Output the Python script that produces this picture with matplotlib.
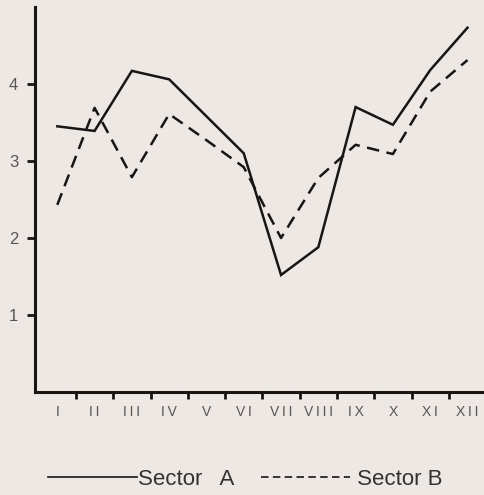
import matplotlib.pyplot as plt
from matplotlib.lines import Line2D
import numpy as np

plt.rcParams['font.family'] = ['Liberation Sans', 'DejaVu Sans']

meses = ['I', 'II', 'III', 'IV', 'V', 'VI', 'VII', 'VIII', 'IX', 'X', 'XI', 'XII']
sector_a = [3.45, 3.39, 4.17, 4.06, 3.58, 3.10, 1.52, 1.88, 3.70, 3.47, 4.18, 4.73]
sector_b = [2.43, 3.69, 2.79, 3.61, 3.27, 2.92, 2.00, 2.78, 3.21, 3.09, 3.90, 4.31]
y_ticks = [1, 2, 3, 4]

paper = '#eee8e4'
ink = '#161616'

fig = plt.figure(figsize=(4.85, 4.95), dpi=100, facecolor=paper)
ax = fig.add_axes([0.072, 0.208, 0.928, 0.792], facecolor=paper)

x = np.arange(len(meses))
ax.plot(x, sector_a, color=ink, lw=1.8, solid_joinstyle='miter')
ax.plot(x, sector_b, color=ink, lw=1.8, dashes=(5, 3))

ax.set_xlim(-0.6, 11.47)
ax.set_ylim(0, 5.09)

for s in ['top', 'right']:
    ax.spines[s].set_visible(False)
for s in ['left', 'bottom']:
    ax.spines[s].set_linewidth(2.2)
    ax.spines[s].set_color(ink)
ax.spines['left'].set_bounds(0, 5.0)

ax.set_yticks(y_ticks)
ax.set_yticklabels([str(v) for v in y_ticks], fontsize=12, color='#555555')
ax.tick_params(axis='y', direction='out', length=6, width=2, color=ink, pad=6)

ax.set_xticks(x)
ax.set_xticklabels(['\u2009'.join(m) for m in meses], fontsize=10, color='#555555')
ax.set_xticks(x[:-1] + 0.5, minor=True)
ax.tick_params(axis='x', which='major', length=0, pad=9)
ax.tick_params(axis='x', which='minor', direction='out', length=5, width=2, color=ink)

# leyenda con trazos mas finos
h_a = Line2D([], [], color=ink, lw=1.2)
h_b = Line2D([], [], color=ink, lw=1.2, dashes=(4.5, 2.6))
fig.legend([h_a, h_b], ['Sector   A', ' Sector B'], loc='center',
           bbox_to_anchor=(0.505, 0.032), ncol=2, frameon=False,
           fontsize=16, handlelength=4.0, handletextpad=0.05, columnspacing=1.2,
           labelcolor='#333333')

fig.savefig('out.png', dpi=100, facecolor=paper)
